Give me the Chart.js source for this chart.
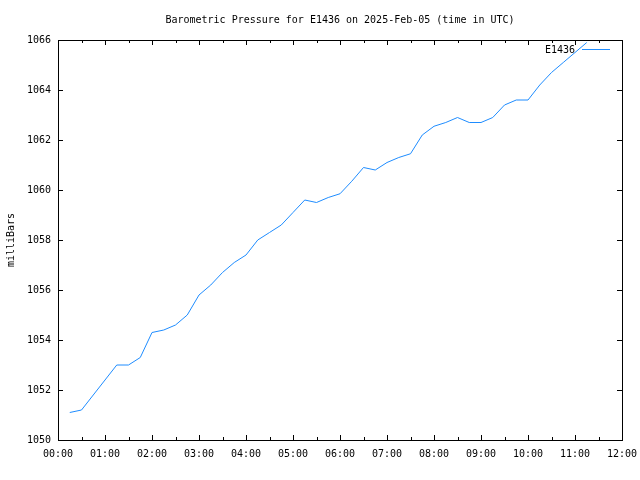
<!DOCTYPE html>
<html>
<head>
<meta charset="utf-8">
<title>Barometric Pressure</title>
<script src="https://cdn.jsdelivr.net/npm/chart.js@4.4.1/dist/chart.umd.min.js"></script>
<style>
    html, body { margin: 0; padding: 0; background: #fff; }
</style>
</head>
<body>
<canvas id="pressure-chart" width="640" height="480"></canvas>
<script>
// Station readings, every 15 minutes (UTC)
const sampleTimes = [
    '00:15', '00:30', '00:45', '01:00', '01:15', '01:30', '01:45', '02:00', '02:15',
    '02:30', '02:45', '03:00', '03:15', '03:30', '03:45', '04:00', '04:15', '04:30',
    '04:45', '05:00', '05:15', '05:30', '05:45', '06:00', '06:15', '06:30', '06:45',
    '07:00', '07:15', '07:30', '07:45', '08:00', '08:15', '08:30', '08:45', '09:00',
    '09:15', '09:30', '09:45', '10:00', '10:15', '10:30', '10:45', '11:00', '11:15'
];
const pressures = [
    1051.1, 1051.2, 1051.8, 1052.4, 1053.0, 1053.0, 1053.3, 1054.3, 1054.4,
    1054.6, 1055.0, 1055.8, 1056.2, 1056.7, 1057.1, 1057.4, 1058.0, 1058.3,
    1058.6, 1059.1, 1059.6, 1059.5, 1059.7, 1059.85, 1060.35, 1060.9, 1060.8,
    1061.1, 1061.3, 1061.45, 1062.2, 1062.55, 1062.7, 1062.9, 1062.7, 1062.7,
    1062.9, 1063.4, 1063.6, 1063.6, 1064.2, 1064.7, 1065.1, 1065.5, 1065.9
];
const xTickLabels = [
    '00:00', '01:00', '02:00', '03:00', '04:00', '05:00', '06:00',
    '07:00', '08:00', '09:00', '10:00', '11:00', '12:00'
];
const yMin = 1050;
const yMax = 1066;
const yStep = 2;

const stationName = 'E1436';
const chartTitle = 'Barometric Pressure for E1436 on 2025-Feb-05 (time in UTC)';
const lineColor = '#1e8cff';

function toMinutes(t) {
    const parts = t.split(':');
    return parseInt(parts[0], 10) * 60 + parseInt(parts[1], 10);
}

/**
 * gnuplot-like frame: box, inward ticks on all sides, title and key
 */
const gnuplotFrame = {
    id: 'gnuplotFrame',
    afterDraw: function(chart) {
        const ctx = chart.ctx;
        const a = chart.chartArea;
        const xs = chart.scales.x;
        const ys = chart.scales.y;

        ctx.save();
        ctx.strokeStyle = '#000';
        ctx.lineWidth = 1;
        ctx.strokeRect(Math.round(a.left) + 0.5, Math.round(a.top) + 0.5,
            Math.round(a.right - a.left), Math.round(a.bottom - a.top));

        ctx.beginPath();
        // hour ticks (major) and half hour ticks (minor)
        for (let m = 0; m <= 720; m += 30) {
            const px = Math.round(xs.getPixelForValue(m)) + 0.5;
            const len = (m % 60 === 0) ? 5 : 3;
            ctx.moveTo(px, a.bottom);
            ctx.lineTo(px, a.bottom - len);
            ctx.moveTo(px, a.top);
            ctx.lineTo(px, a.top + len);
        }
        for (let v = yMin; v <= yMax; v += yStep) {
            const py = Math.round(ys.getPixelForValue(v)) + 0.5;
            ctx.moveTo(a.left, py);
            ctx.lineTo(a.left + 5, py);
            ctx.moveTo(a.right, py);
            ctx.lineTo(a.right - 5, py);
        }
        ctx.stroke();

        // title
        ctx.fillStyle = '#000';
        ctx.font = '10px "DejaVu Sans Mono"';
        ctx.textAlign = 'center';
        ctx.textBaseline = 'middle';
        ctx.fillText(chartTitle, (a.left + a.right) / 2, 20);

        // key, top right
        const ds = chart.data.datasets[0];
        ctx.textAlign = 'right';
        ctx.fillText(ds.label, a.right - 47, 50);
        ctx.strokeStyle = ds.borderColor;
        ctx.beginPath();
        ctx.moveTo(a.right - 40, 49.5);
        ctx.lineTo(a.right - 12, 49.5);
        ctx.stroke();
        ctx.restore();
    }
};

Chart.defaults.font.family = '"DejaVu Sans Mono", monospace';
Chart.defaults.font.size = 10;
Chart.defaults.color = '#000';

const ctx = document.getElementById('pressure-chart');
new Chart(ctx, {
    type: 'line',
    data: {
        datasets: [{
            label: stationName,
            data: sampleTimes.map((t, i) => ({ x: toMinutes(t), y: pressures[i] })),
            borderColor: lineColor,
            borderWidth: 1,
            pointRadius: 0,
            tension: 0,
            fill: false
        }]
    },
    options: {
        responsive: false,
        animation: false,
        layout: {
            padding: { top: 40, right: 18, left: 0, bottom: 0 }
        },
        plugins: {
            legend: { display: false },
            title: { display: false },
            tooltip: { enabled: false }
        },
        scales: {
            x: {
                type: 'linear',
                min: 0,
                max: 720,
                grid: { display: false, drawTicks: false },
                border: { display: false },
                ticks: {
                    stepSize: 60,
                    autoSkip: false,
                    maxRotation: 0,
                    padding: 8,
                    callback: value => xTickLabels[value / 60]
                },
                afterFit: scale => {
                    scale.height = 40;
                    scale.paddingLeft = 0;
                    scale.paddingRight = 0;
                }
            },
            y: {
                min: yMin,
                max: yMax,
                grid: { display: false, drawTicks: false },
                border: { display: false },
                ticks: {
                    stepSize: yStep,
                    padding: 7,
                    callback: value => String(value)
                },
                title: {
                    display: true,
                    text: 'milliBars',
                    padding: { top: 5, bottom: 0 }
                },
                afterFit: scale => {
                    scale.width = 58;
                    scale.paddingTop = 0;
                    scale.paddingBottom = 0;
                }
            }
        }
    },
    plugins: [gnuplotFrame]
});
</script>
</body>
</html>
